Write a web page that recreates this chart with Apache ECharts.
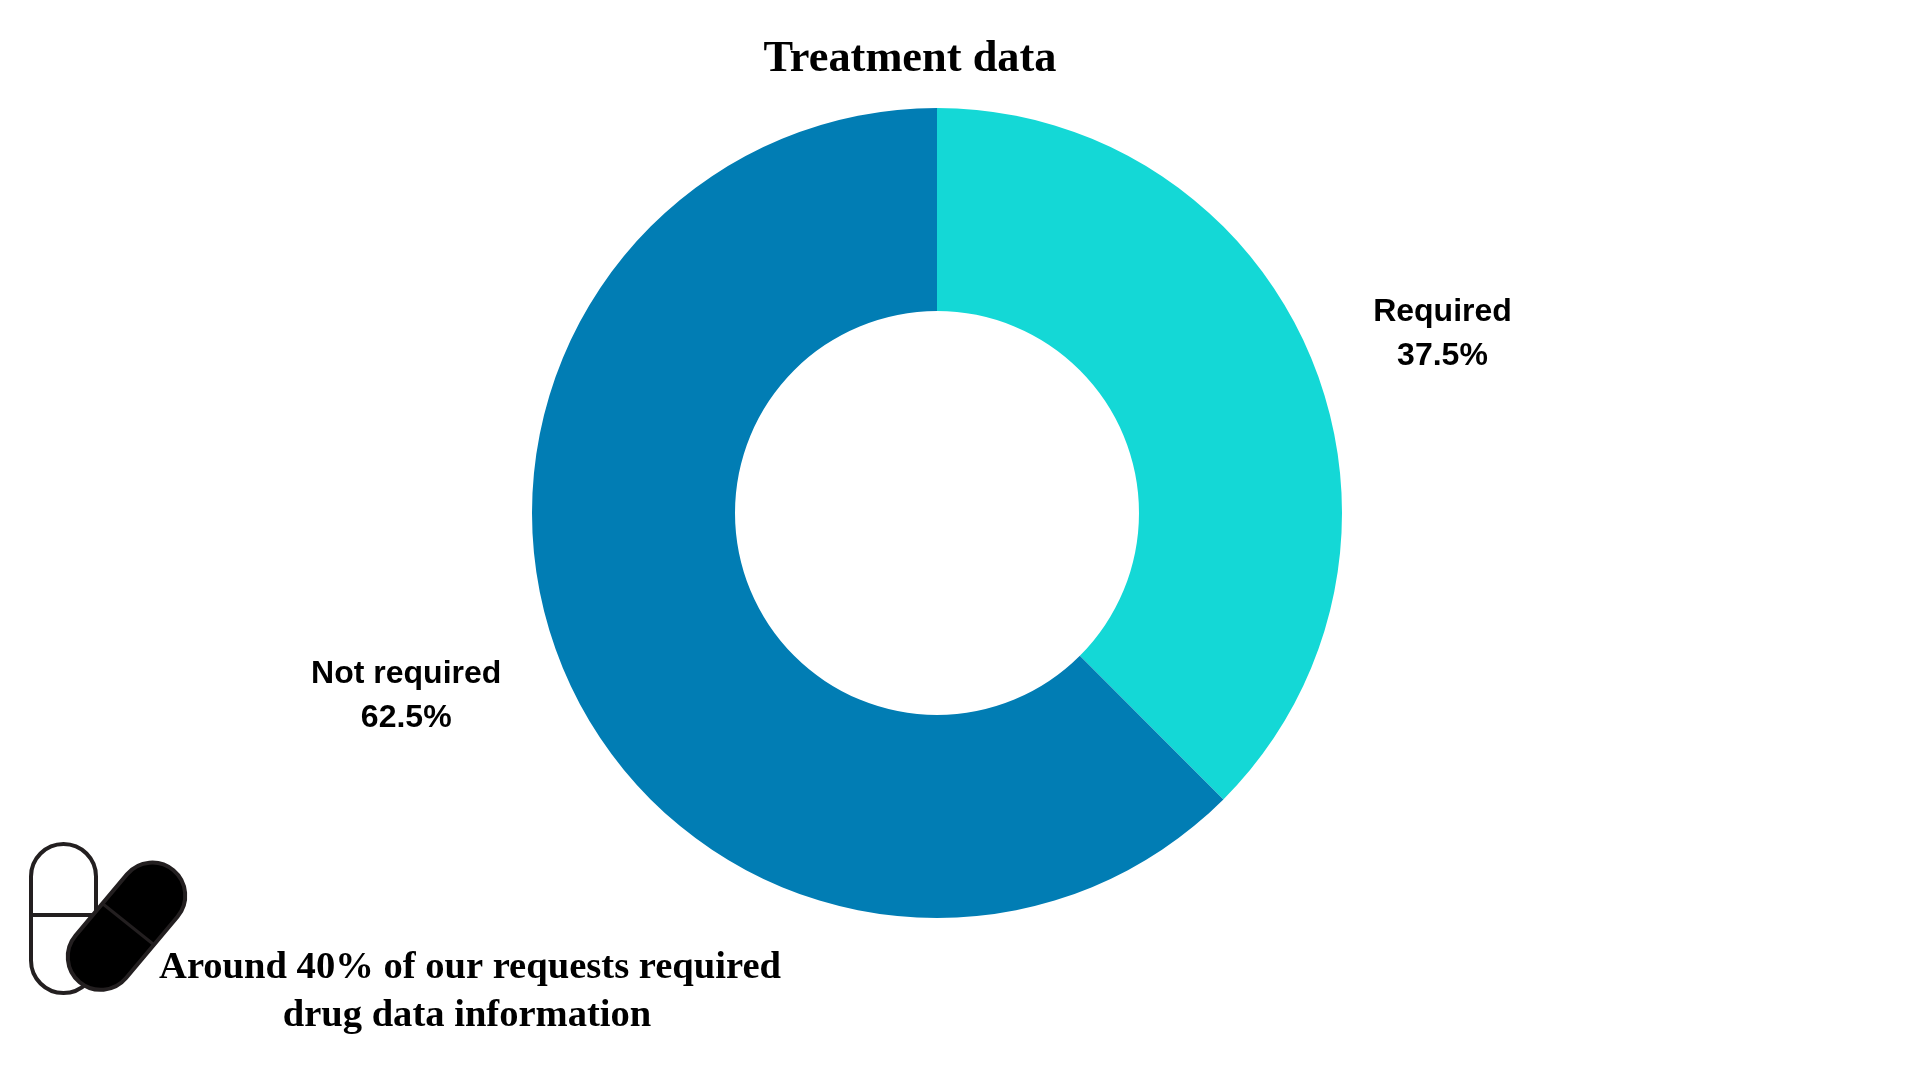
<!DOCTYPE html>
<html>
<head>
<meta charset="utf-8">
<style>html,body{margin:0;padding:0;background:#fff}#c{width:1920px;height:1080px}</style>
<script src="https://cdn.jsdelivr.net/npm/echarts@6/dist/echarts.min.js"></script>
</head>
<body>
<div id="c"></div>
<script>
const categories = ["Required", "Not required"];
const values = [37.5, 62.5];
const colors = ["#14D8D6", "#017DB4"];
const titleText = "Treatment data";
const noteLines = ["Around 40% of our requests required", "drug data information"];
const labelNudge = [[-4, 1.5], [4.5, 2.5]];

const chart = echarts.init(document.getElementById('c'), null, {renderer: 'canvas'});
const serif = '"Liberation Serif", serif';
const ink = '#231f20';
const tilt = -40 * Math.PI / 180;
chart.setOption({
  animation: false,
  backgroundColor: '#fff',
  title: {
    text: titleText, left: 905, top: 55, textAlign: 'center', textVerticalAlign: 'middle',
    textStyle: {fontFamily: serif, fontWeight: 'bold', fontSize: 44.4, color: '#000'}
  },
  series: [{
    type: 'pie',
    center: [937, 513],
    radius: [202, 405],
    startAngle: 90,
    clockwise: true,
    percentPrecision: 1,
    silent: true,
    data: categories.map((c, i) => ({name: c, value: values[i], itemStyle: {color: colors[i]}})),
    label: {
      show: true, position: 'outside', formatter: '{b}\n{d}%',
      fontFamily: '"Liberation Sans", sans-serif', fontWeight: 'bold', fontSize: 32,
      lineHeight: 44, color: '#000', align: 'center'
    },
    labelLine: {show: false, length: 66, length2: 0},
    labelLayout: p => ({
      x: p.labelRect.x + p.labelRect.width / 2 + labelNudge[p.dataIndex][0],
      y: p.labelRect.y + p.labelRect.height / 2 + labelNudge[p.dataIndex][1],
      align: 'center', verticalAlign: 'middle'
    })
  }],
  graphic: [
    {type: 'rect', z: 10, shape: {x: 31, y: 844, width: 65, height: 149, r: 32.5},
      style: {fill: '#fff', stroke: ink, lineWidth: 4}},
    {type: 'line', z: 10, shape: {x1: 31, y1: 915, x2: 96, y2: 915},
      style: {stroke: ink, lineWidth: 4}},
    {type: 'rect', z: 11, x: 126.5, y: 926.2, originX: 0, originY: 0, rotation: tilt,
      shape: {x: -33, y: -73, width: 66, height: 146, r: 33},
      style: {fill: '#000', stroke: ink, lineWidth: 4}},
    {type: 'line', z: 12, shape: {x1: 103, y1: 904, x2: 153, y2: 944},
      style: {stroke: ink, lineWidth: 3}},
    {type: 'text', z: 20, x: 470, y: 968.5,
      style: {text: noteLines[0], align: 'center', verticalAlign: 'middle', fill: '#000',
        font: 'bold 38.6px ' + serif}},
    {type: 'text', z: 20, x: 467, y: 1016.5,
      style: {text: noteLines[1], align: 'center', verticalAlign: 'middle', fill: '#000',
        font: 'bold 38.6px ' + serif}}
  ]
});
</script>
</body>
</html>
